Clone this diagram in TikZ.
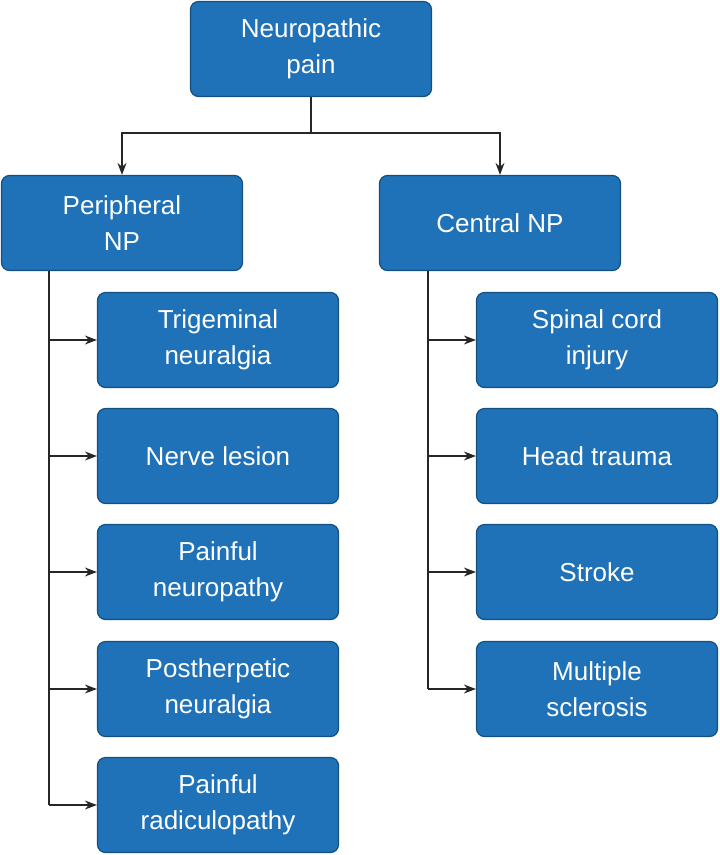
\documentclass[tikz,border=0pt]{standalone}
\usepackage{fontspec}
\setmainfont{Liberation Sans}
\usetikzlibrary{arrows.meta}
\definecolor{boxfill}{HTML}{1F71B8}
\definecolor{boxline}{HTML}{14507F}
\tikzset{
  box/.style={draw=boxline, line width=1.2pt, fill=boxfill, rounded corners=8pt,
    minimum width=241pt, minimum height=95pt, text=white, align=center,
    font=\fontsize{26}{36}\selectfont, inner sep=0pt},
  conn/.style={draw=black!85, line width=1.3pt, -{Stealth[length=12pt,width=9pt]}},
  line/.style={draw=black!85, line width=1.3pt}
}
\begin{document}
\begin{tikzpicture}[x=1pt,y=-1pt]
\useasboundingbox (0,0) rectangle (720,855);
\node[box] (np) at (311,49) {Neuropathic\\pain};
\node[box] (per) at (122,223) {Peripheral\\NP};
\node[box] (cen) at (500,223) {Central NP};
\node[box] (l1) at (218,340) {Trigeminal\\neuralgia};
\node[box] (l2) at (218,456) {Nerve lesion};
\node[box] (l3) at (218,572) {Painful\\neuropathy};
\node[box] (l4) at (218,689) {Postherpetic\\neuralgia};
\node[box] (l5) at (218,805) {Painful\\radiculopathy};
\node[box] (r1) at (597,340) {Spinal cord\\injury};
\node[box] (r2) at (597,456) {Head trauma};
\node[box] (r3) at (597,572) {Stroke};
\node[box] (r4) at (597,689) {Multiple\\sclerosis};
\coordinate (j) at (311,133);
\draw[line] (np.south) -- (j);
\draw[conn] (j) -| (per.north);
\draw[conn] (j) -| (cen.north);
\coordinate (pl) at (49,271);
\coordinate (cl) at (428,271);
\draw[line] (pl) -- (49,805);
\draw[line] (cl) -- (428,689);
\foreach \n in {l1,l2,l3,l4,l5} \draw[conn] (pl |- \n.west) -- (\n.west);
\foreach \n in {r1,r2,r3,r4} \draw[conn] (cl |- \n.west) -- (\n.west);
\end{tikzpicture}
\end{document}
